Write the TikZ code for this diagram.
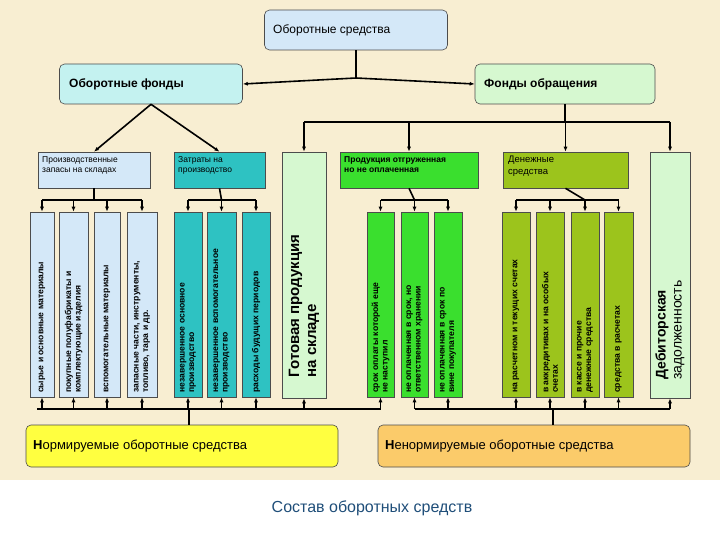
\documentclass[tikz,border=0pt]{standalone}
\usepackage{fontspec}
\setmainfont{Liberation Sans}
\begin{document}
\begin{tikzpicture}[x=1pt,y=-1pt,
 box/.style={draw=black!70,line width=0.6pt,inner sep=0pt},
 rbox/.style={box,rounded corners=5pt},
 ar/.style={line width=1.6pt,-{Latex[length=5pt,width=4pt]}},
 ln/.style={line width=1.6pt},
 vt/.style={rotate=90,anchor=west,align=left,font=\fontsize{8.6}{9.5}\selectfont\bfseries,inner sep=1pt},
 ht/.style={align=left,font=\fontsize{8.5}{10.5}\selectfont,anchor=north west,inner sep=0pt},
 lbl/.style={anchor=west,inner sep=0pt,font=\fontsize{12}{14}\selectfont}]
\usetikzlibrary{arrows.meta}
\definecolor{bg}{HTML}{F8EED2}
\definecolor{lblue}{HTML}{D4E8F8}
\definecolor{lcyan}{HTML}{C4F2F0}
\definecolor{lgreen}{HTML}{D6F8D0}
\definecolor{teal1}{HTML}{2EC2C2}
\definecolor{bgreen}{HTML}{3ADF2E}
\definecolor{olive1}{HTML}{9CC41C}
\definecolor{yel}{HTML}{FFFF40}
\definecolor{ora}{HTML}{FBCB6A}
\definecolor{ttl}{HTML}{1F4E79}
\useasboundingbox (0,0) rectangle (720,540);
\fill[bg] (0,0) rectangle (720,480);
% top
\node[rbox,fill=lblue,minimum width=183pt,minimum height=40pt] (os) at (356,30) {};
\node[lbl] at (273,30) {Оборотные средства};
\node[rbox,fill=lcyan,minimum width=183pt,minimum height=40pt] (of) at (151,84) {};
\node[lbl,font=\fontsize{12}{14}\selectfont\bfseries] at (69,84) {Оборотные фонды};
\node[rbox,fill=lgreen,minimum width=180pt,minimum height=40pt] (fo) at (565,84) {};
\node[lbl,font=\fontsize{12}{14}\selectfont\bfseries] at (484,84) {Фонды обращения};
\coordinate (j1) at (356,78);
\draw[ln] (os.south) -- (j1);
\draw[ar] (j1) -- (of.east);
\draw[ar] (j1) -- (fo.west);
% second row
\node[box,fill=lblue,minimum width=112pt,minimum height=36pt] (pz) at (94,170) {};
\node[ht] at (42,156) {Производственные\\запасы на складах};
\node[box,fill=teal1,minimum width=91pt,minimum height=36pt] (zp) at (219.5,170) {};
\node[ht] at (178,156) {Затраты на\\производство};
\node[box,fill=lgreen,minimum width=44pt,minimum height=246pt] (gp) at (304,275) {};
\node[rotate=90,align=left,font=\fontsize{15}{17}\selectfont\bfseries] at (304,306) {Готовая продукция\\на складе};
\node[box,fill=bgreen,minimum width=138pt,minimum height=36pt] (po) at (409,170) {};
\node[ht,font=\fontsize{8.5}{10.5}\selectfont\bfseries] at (344,156) {Продукция отгруженная\\ но не оплаченная};
\node[box,fill=olive1,minimum width=125pt,minimum height=36pt] (ds) at (565.5,170) {};
\node[ht,font=\fontsize{9.5}{11.5}\selectfont] at (508,156) {Денежные\\средства};
\node[box,fill=lgreen,minimum width=40pt,minimum height=246pt] (dz) at (670,275) {};
\node[rotate=90,align=left,font=\fontsize{14}{16}\selectfont] at (670,330) {\textbf{Дебиторская}\\задолженность};
% from Оборотные фонды
\draw[ar] (of.south) -- (pz.north);
\draw[ar] (of.south) -- (zp.north);
% from Фонды обращения
\coordinate (j2) at (565,122);
\draw[ln] (fo.south) -- (j2);
\draw[ln] (304,122) -- (670,122);
\draw[ar] (304,122) -- (gp.north);
\draw[ar] (409,122) -- (po.north);
\draw[ar] (565.5,122) -- (ds.north);
\draw[ar] (670,122) -- (dz.north);
% leaf boxes
\foreach \n/\x/\w/\c/\t in {
 a1/42/24/lblue/{сырье и основные материалы},
 a2/73.5/29/lblue/{покупные полуфабрикаты и\\комплектующие изделия},
 a3/107/26/lblue/{вспомогательные материалы},
 a4/142/30/lblue/{запасные части, инструменты,\\топливо, тара и др.},
 b1/188/28/teal1/{незавершенное основное\\производство},
 b2/221.5/29/teal1/{незавершенное вспомогательное\\производство},
 b3/256/28/teal1/{расходы будущих периодов},
 c1/380.5/27/bgreen/{срок оплаты которой еще\\не наступил},
 c2/414.5/27/bgreen/{не оплаченная в срок, но\\ответственном хранении},
 c3/448/28/bgreen/{не оплаченная в срок по\\вине покупателя},
 d1/516/28/olive1/{на расчетном и текущих счетах},
 d2/550/28/olive1/{в аккредитивах и на особых\\счетах},
 d3/585/28/olive1/{в кассе и прочие\\денежные средства},
 d4/618.5/29/olive1/{средства в расчетах}}
{
 \node[box,fill=\c,minimum width=\w pt,minimum height=185pt] (\n) at (\x,304.5) {};
 \node[vt] at (\x,394) {\t};
}
% group connectors top
\draw[ln] (pz.south) -- (94,200);
\draw[ln] (42,200) -- (142,200);
\foreach \n in {a1,a2,a3,a4} \draw[ar] (\n |- 0,200) -- (\n.north);
\draw[ln] (zp.south) -- (221.5,200);
\draw[ln] (188,200) -- (256,200);
\foreach \n in {b1,b2,b3} \draw[ar] (\n |- 0,200) -- (\n.north);
\draw[ln] (po.south) -- (414.5,200);
\draw[ln] (380.5,200) -- (448,200);
\foreach \n in {c1,c2,c3} \draw[ar] (\n |- 0,200) -- (\n.north);
\draw[ln] (ds.south) -- (585,200);
\draw[ln] (516,200) -- (618.5,200);
\foreach \n in {d1,d2,d3,d4} \draw[ar] (\n |- 0,200) -- (\n.north);
% bottom
\node[rbox,fill=yel,minimum width=312pt,minimum height=42pt] (nm) at (182,446) {};
\node[lbl,font=\fontsize{13}{15}\selectfont] at (33,446) {\textbf{Н}ормируемые оборотные средства};
\node[rbox,fill=ora,minimum width=312pt,minimum height=42pt] (nn) at (534,446) {};
\node[lbl,font=\fontsize{13}{15}\selectfont] at (385,446) {\textbf{Н}енормируемые оборотные средства};
\draw[ln] (37,409) -- (380.5,409);
\draw[ln] (414.5,409) -- (670,409);
\draw[ln] (189,409) -- (nm.north -| 189,0);
\draw[ln] (553,409) -- (nn.north -| 553,0);
\foreach \n in {a1,a2,a3,a4,b1,b2,b3,gp,c1} \draw[ar] (\n |- 0,409) -- (\n.south);
\foreach \n in {c2,c3,d1,d2,d3,d4,dz} \draw[ar] (\n |- 0,409) -- (\n.south);
\node[font=\fontsize{16}{18}\selectfont,text=ttl] (title) at (372,508) {Состав оборотных средств};
\end{tikzpicture}
\end{document}
